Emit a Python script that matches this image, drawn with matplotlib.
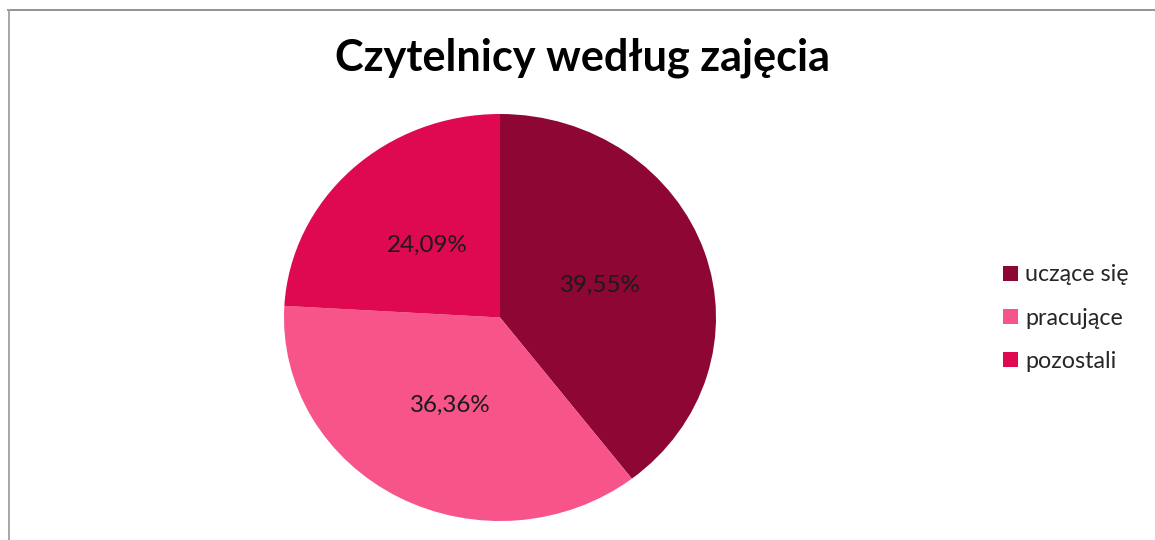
import matplotlib
matplotlib.use("Agg")
import matplotlib.pyplot as plt
from matplotlib.lines import Line2D

categories = ["uczące się", "pracujące", "pozostali"]
values = [39.55, 36.36, 24.09]
colors = ["#8E0634", "#F7548A", "#DE0950"]
title = "Czytelnicy według zajęcia"

W, H = 1155, 540
fig = plt.figure(figsize=(W / 100, H / 100), dpi=100)
fig.patch.set_facecolor("white")

def px(x0, y0, w, h):
    return [x0 / W, 1 - (y0 + h) / H, w / W, h / H]

ax = fig.add_axes(px(284, 114, 432, 407))
wedges, texts, autotexts = ax.pie(
    values, colors=colors, startangle=90, counterclock=False,
    autopct=lambda p: f"{p:.2f}".replace(".", ",") + "%",
    pctdistance=0.49, wedgeprops=dict(linewidth=0),
    textprops=dict(color="#1a1a1a", family="Lato", fontsize=14),
)
ax.set_aspect("auto")
ax.set_xlim(-1, 1)
ax.set_ylim(-1, 1)
ax.axis("off")

t_title = fig.text(582.5 / W, 1 - 58 / H, title, ha="center", va="center",
                   fontsize=30, fontweight="bold", family="Lato", color="black")

fig.canvas.draw()
r = fig.canvas.get_renderer()

def fit(t, target):
    bb = t.get_window_extent(r)
    t.set_fontsize(t.get_fontsize() * target / bb.width)

fit(t_title, 495)
fit(autotexts[0], 81)
fs_lab = autotexts[0].get_fontsize()
for a in autotexts:
    a.set_fontsize(fs_lab)

# legend font size measured from the width of the first label
tmp = fig.text(0, 0, categories[0], family="Lato", fontsize=14)
fit(tmp, 104)
fs_leg = tmp.get_fontsize()
tmp.remove()
fpx = fs_leg * 100 / 72

leg = fig.legend(wedges, categories, loc="center left",
                 bbox_to_anchor=(1003 / W, 1 - 318 / H),
                 frameon=False, prop=dict(family="Lato", size=fs_leg),
                 labelcolor="#262626",
                 handlelength=15 / fpx, handleheight=15 / fpx,
                 handletextpad=7 / fpx, borderpad=0, borderaxespad=0,
                 labelspacing=(50 - fpx * 1.2) / fpx)

# chart-area border (top and left visible)
fig.add_artist(Line2D([8 / W, 1], [1 - 9.5 / H, 1 - 9.5 / H],
                      transform=fig.transFigure, color="#8a8a8a", lw=1.3))
fig.add_artist(Line2D([8.5 / W, 8.5 / W], [0, 1 - 9.5 / H],
                      transform=fig.transFigure, color="#a0a0a0", lw=1.3))

fig.savefig("out.png", dpi=100, facecolor="white")
